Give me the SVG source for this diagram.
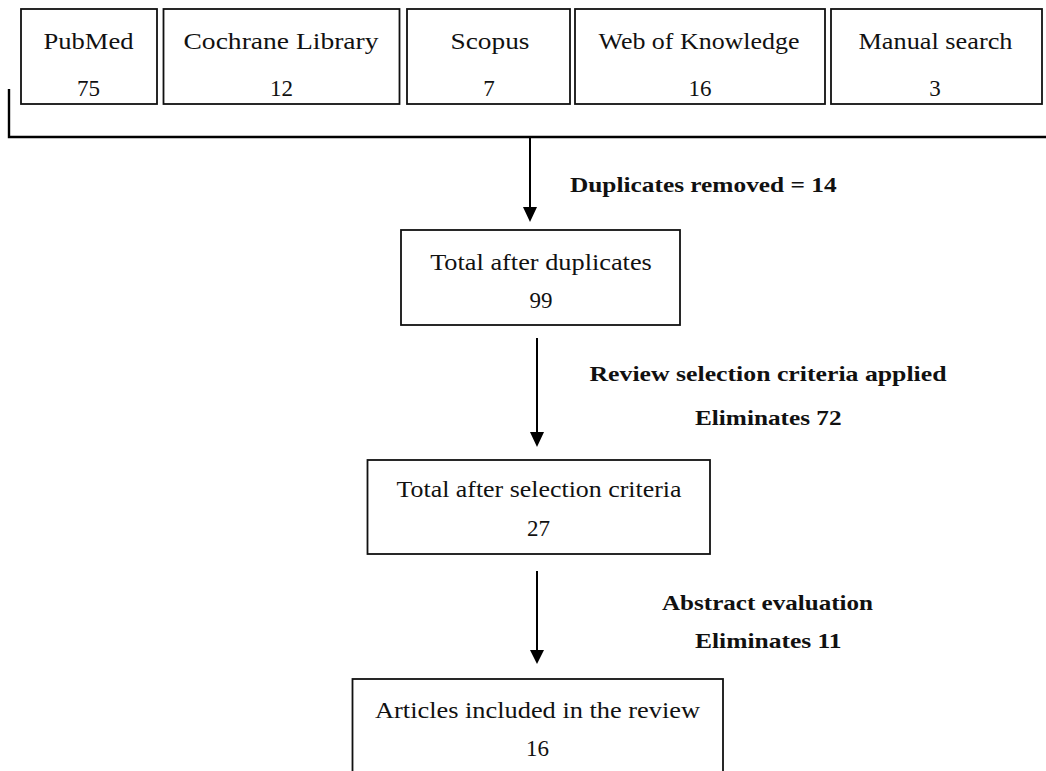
<svg xmlns="http://www.w3.org/2000/svg" width="1046" height="771" viewBox="0 0 1046 771">
<defs>
<style>
.box{fill:#fff;stroke:#111;stroke-width:1.8}
.t{font-family:"Liberation Serif","Times New Roman",serif;font-size:23px;fill:#111;text-anchor:middle}
.b{font-family:"Liberation Serif","Times New Roman",serif;font-size:22px;font-weight:bold;fill:#111;text-anchor:middle}
.ln{fill:none;stroke:#000;stroke-width:2.4}
.ar{fill:none;stroke:#000;stroke-width:2}
.hd{fill:#000}
</style>
</defs>
<rect width="1046" height="771" fill="#fff"/>
<g id="pubmed">
<rect class="box" x="21" y="9" width="136" height="95"/>
<text class="t" x="88.5" y="49" textLength="90" lengthAdjust="spacingAndGlyphs">PubMed</text>
<text class="t" x="88.5" y="96">75</text>
</g>
<g id="cochrane">
<rect class="box" x="163.5" y="9" width="236" height="95"/>
<text class="t" x="281" y="49" textLength="195" lengthAdjust="spacingAndGlyphs">Cochrane Library</text>
<text class="t" x="281.5" y="96">12</text>
</g>
<g id="scopus">
<rect class="box" x="407" y="9" width="163" height="95"/>
<text class="t" x="490" y="49" textLength="79" lengthAdjust="spacingAndGlyphs">Scopus</text>
<text class="t" x="489" y="96">7</text>
</g>
<g id="wok">
<rect class="box" x="575" y="9" width="250" height="95"/>
<text class="t" x="699" y="49" textLength="201" lengthAdjust="spacingAndGlyphs">Web of Knowledge</text>
<text class="t" x="700" y="96">16</text>
</g>
<g id="manual">
<rect class="box" x="831" y="9" width="211" height="95"/>
<text class="t" x="935.5" y="49" textLength="154" lengthAdjust="spacingAndGlyphs">Manual search</text>
<text class="t" x="935" y="96">3</text>
</g>
<g id="connectors">
<path class="ln" d="M9,89 V137 H1046"/>
<line class="ar" x1="530" y1="137" x2="530" y2="208"/>
<polygon class="hd" points="523,207 537,207 530,222"/>
<line class="ar" x1="537" y1="338" x2="537" y2="433"/>
<polygon class="hd" points="530,432 544,432 537,447"/>
<line class="ar" x1="537" y1="571" x2="537" y2="651"/>
<polygon class="hd" points="530,650 544,650 537,664"/>
</g>
<g id="labels">
<text class="b" x="703.3" y="192" textLength="266.7" lengthAdjust="spacingAndGlyphs">Duplicates removed = 14</text>
<text class="b" x="768" y="381" textLength="357" lengthAdjust="spacingAndGlyphs">Review selection criteria applied</text>
<text class="b" x="768.3" y="425" textLength="146.7" lengthAdjust="spacingAndGlyphs">Eliminates 72</text>
<text class="b" x="767.5" y="610" textLength="211" lengthAdjust="spacingAndGlyphs">Abstract evaluation</text>
<text class="b" x="768.3" y="648" textLength="146.7" lengthAdjust="spacingAndGlyphs">Eliminates 11</text>
</g>
<g id="total-dup">
<rect class="box" x="401" y="230" width="279" height="95"/>
<text class="t" x="541" y="270" textLength="221.7" lengthAdjust="spacingAndGlyphs">Total after duplicates</text>
<text class="t" x="541" y="308">99</text>
</g>
<g id="total-sel">
<rect class="box" x="367.5" y="460" width="342.5" height="94"/>
<text class="t" x="539" y="497" textLength="285" lengthAdjust="spacingAndGlyphs">Total after selection criteria</text>
<text class="t" x="538.5" y="536">27</text>
</g>
<g id="included">
<rect class="box" x="352.5" y="679" width="370.5" height="130"/>
<text class="t" x="537.5" y="718" textLength="325" lengthAdjust="spacingAndGlyphs">Articles included in the review</text>
<text class="t" x="537.5" y="756">16</text>
</g>
</svg>
